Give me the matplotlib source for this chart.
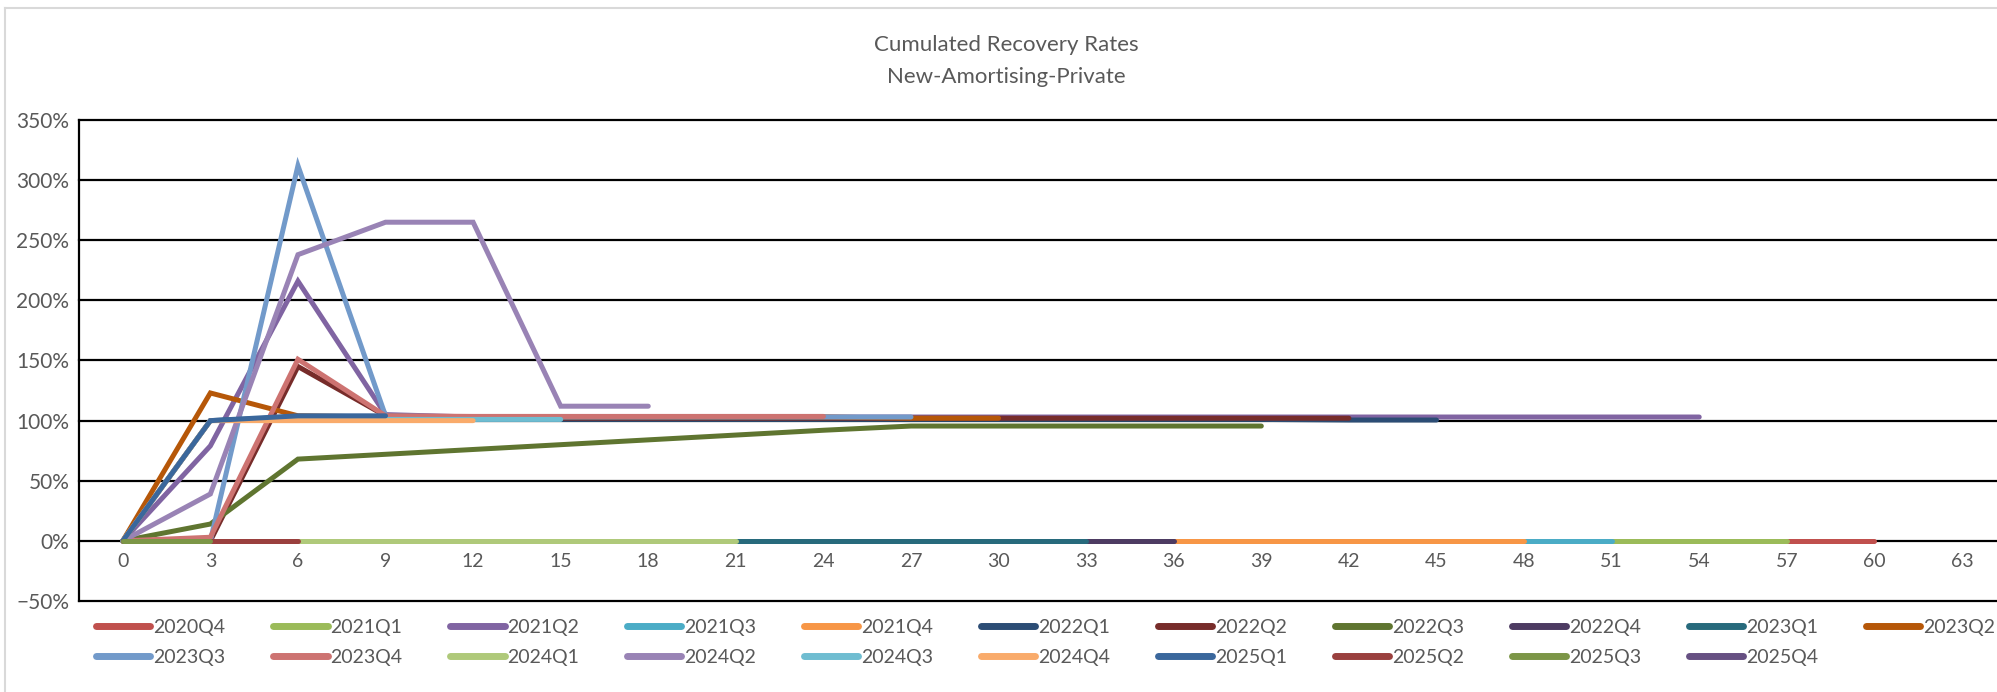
from matplotlib import pyplot as plt
from matplotlib.ticker import PercentFormatter
import matplotlib.lines as mlines
import numpy as np

FONT = ['Lato', 'DejaVu Sans']
FONTSIZE_TICKS = 14
TEXT_COLOR = '#595959'

plt.rcParams['font.family'] = FONT

# cumulated recovery rate (%) per cohort, one value every 3 months starting at month 0
cohorts = ['2020Q4', '2021Q1', '2021Q2', '2021Q3', '2021Q4', '2022Q1', '2022Q2',
           '2022Q3', '2022Q4', '2023Q1', '2023Q2', '2023Q3', '2023Q4', '2024Q1',
           '2024Q2', '2024Q3', '2024Q4', '2025Q1', '2025Q2', '2025Q3', '2025Q4']

r2020Q4 = [0, 0, 0, 0, 0, 0, 0, 0, 0, 0, 0, 0, 0, 0, 0, 0, 0, 0, 0, 0, 0]
r2021Q1 = [0, 0, 0, 0, 0, 0, 0, 0, 0, 0, 0, 0, 0, 0, 0, 0, 0, 0, 0, 0]
r2021Q2 = [0, 79, 216, 105, 103, 103, 103, 103, 103, 103, 103, 103, 103, 103, 103, 103, 103, 103, 103]
r2021Q3 = [0, 0, 0, 0, 0, 0, 0, 0, 0, 0, 0, 0, 0, 0, 0, 0, 0, 0]
r2021Q4 = [0, 0, 0, 0, 0, 0, 0, 0, 0, 0, 0, 0, 0, 0, 0, 0, 0]
r2022Q1 = [0, 100, 103, 103, 101, 101, 101, 101, 101, 101, 101, 101, 101, 101, 100.5, 100.5]
r2022Q2 = [0, 0, 145, 104, 102, 102, 102, 102, 102, 102, 102, 102, 102, 102, 102]
r2022Q3 = [0, 14, 68, 72, 76, 80, 84, 88, 92, 95.5, 95.5, 95.5, 95.5, 95.5]
r2022Q4 = [0, 0, 0, 0, 0, 0, 0, 0, 0, 0, 0, 0, 0]
r2023Q1 = [0, 0, 0, 0, 0, 0, 0, 0, 0, 0, 0, 0]
r2023Q2 = [0, 123, 104, 103, 103, 103, 103, 103, 103, 102, 102]
r2023Q3 = [0, 0, 312, 104, 103, 103, 103, 103, 103, 103]
r2023Q4 = [0, 3, 151, 104, 103.5, 103.5, 103.5, 103.5, 103.5]
r2024Q1 = [0, 0, 0, 0, 0, 0, 0, 0]
r2024Q2 = [0, 39, 238, 265, 265, 112, 112]
r2024Q3 = [0, 100, 101, 101, 101, 101]
r2024Q4 = [0, 100, 100, 100, 100]
r2025Q1 = [0, 100, 104, 104]
r2025Q2 = [0, 0, 0]
r2025Q3 = [0, 0]
r2025Q4 = [0]

series = [r2020Q4, r2021Q1, r2021Q2, r2021Q3, r2021Q4, r2022Q1, r2022Q2,
          r2022Q3, r2022Q4, r2023Q1, r2023Q2, r2023Q3, r2023Q4, r2024Q1,
          r2024Q2, r2024Q3, r2024Q4, r2025Q1, r2025Q2, r2025Q3, r2025Q4]

colors = ['#C0504D', '#9BBB59', '#8064A2', '#4BACC6', '#F79646', '#2C4D75', '#772C2A',
          '#5F7530', '#4D3B62', '#276A7C', '#B65708', '#729ACA', '#CD7371', '#AFC97A',
          '#9983B5', '#6FBDD1', '#F9AB6B', '#3A679C', '#9A403E', '#7C9647', '#665082']

x_ticks = [0, 3, 6, 9, 12, 15, 18, 21, 24, 27, 30, 33, 36, 39, 42, 45, 48, 51, 54, 57, 60, 63]
y_ticks = [-50, 0, 50, 100, 150, 200, 250, 300, 350]

W, H = 1997, 692
fig = plt.figure(figsize=(W / 100, H / 100), dpi=100)
ax = fig.add_axes([79 / W, 1 - 601 / H, 1 - 79 / W, (601 - 120) / H])

for name, vals, c in zip(cohorts, series, colors):
    m = np.arange(len(vals)) * 3
    ax.plot(m, vals, color=c, lw=3.6, solid_capstyle='round', solid_joinstyle='miter',
            label=name, zorder=3)

ax.set_xlim(-1.5, 64.2)
ax.set_ylim(-50, 350)
ax.set_yticks(y_ticks)
ax.set_xticks(x_ticks)
ax.yaxis.set_major_formatter(PercentFormatter(decimals=0))
ax.grid(axis='y', color='black', lw=1.6, zorder=1)
ax.set_axisbelow(True)

for s in ['top', 'right']:
    ax.spines[s].set_visible(False)
ax.spines['left'].set_color('black')
ax.spines['left'].set_linewidth(1.6)
# category labels sit next to the 0% line
ax.spines['bottom'].set_position(('data', 0))
ax.spines['bottom'].set_visible(False)
ax.tick_params(axis='both', length=0, labelsize=FONTSIZE_TICKS, labelcolor=TEXT_COLOR)
ax.tick_params(axis='x', pad=9)
ax.tick_params(axis='y', pad=7, labelsize=15)
for g in ax.get_ygridlines():
    g.set_clip_on(False)

fig.text(1006 / W, 1 - 45 / H, 'Cumulated Recovery Rates', ha='center', va='center',
         fontsize=16, color=TEXT_COLOR)
fig.text(1006 / W, 1 - 77 / H, 'New-Amortising-Private', ha='center', va='center',
         fontsize=16, color=TEXT_COLOR)

# legend filled row by row (matplotlib fills column by column)
ncol = 11
order = []
for j in range(ncol):
    order.append(j)
    if j + ncol < len(cohorts):
        order.append(j + ncol)
handles = [mlines.Line2D([], [], color=colors[i], lw=5, solid_capstyle='round') for i in order]
labels = [cohorts[i] for i in order]
fig.legend(handles, labels, loc='upper left', bbox_to_anchor=(96 / W, 1 - 619 / H),
           ncol=ncol, frameon=False, fontsize=FONTSIZE_TICKS, labelcolor=TEXT_COLOR,
           handlelength=2.8, handletextpad=0.15, columnspacing=2.45, labelspacing=0.65,
           borderpad=0, borderaxespad=0)

# light chart-area border (left and top)
fig.add_artist(mlines.Line2D([5 / W, 5 / W], [0, 1 - 8 / H], color='#D9D9D9', lw=1.5))
fig.add_artist(mlines.Line2D([5 / W, 1], [1 - 8 / H, 1 - 8 / H], color='#D9D9D9', lw=1.5))

fig.savefig('out.png', dpi=100)
